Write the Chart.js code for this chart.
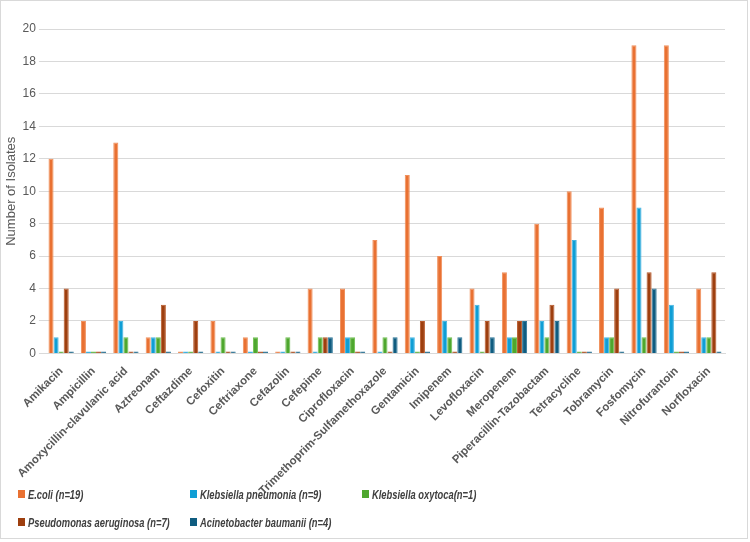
<!DOCTYPE html>
<html>
<head>
<meta charset="utf-8">
<script src="https://cdn.jsdelivr.net/npm/chart.js@4"></script>
<style>
  body { margin: 0; background: #fff; }
  #frame { position: relative; width: 748px; height: 539px; border: 1px solid #d9d9d9; box-sizing: border-box; background: #fff; }
  #plot { position: absolute; left: 0; top: 0; width: 746px; height: 500px; }
  #legend { position: absolute; left: 17px; top: 484px; width: 700px; display: grid; grid-template-columns: 172px 172px 200px; row-gap: 10px;
            font-family: "Liberation Sans", Arial, sans-serif; font-size: 13px; font-weight: bold; font-style: italic; color: #404040; }
  #legend div { display: flex; align-items: center; height: 18px; white-space: nowrap; }
  #legend span.box { display: inline-block; flex-shrink: 0; width: 7px; height: 8px; margin-right: 3px; }
  #legend span.txt { display: inline-block; transform: scaleX(0.72); transform-origin: left center; }
</style>
</head>
<body>
<div id="frame">
  <div id="plot"><canvas id="myChart"></canvas></div>
  <div id="legend"></div>
</div>
<script>
var drugs = ["Amikacin", "Ampicillin", "Amoxycillin-clavulanic acid", "Aztreonam", "Ceftazdime", "Cefoxitin", "Ceftriaxone",
    "Cefazolin", "Cefepime", "Ciprofloxacin", "Trimethoprim-Sulfamethoxazole", "Gentamicin", "Imipenem", "Levofloxacin",
    "Meropenem", "Piperacillin-Tazobactam", "Tetracycline", "Tobramycin", "Fosfomycin", "Nitrofurantoin", "Norfloxacin"];

var ecoli       = [12, 2, 13, 1, 0, 2, 1, 0, 4, 4, 7, 11, 6, 4, 5, 8, 10, 9, 19, 19, 4];
var kpneumonia  = [1, 0, 2, 1, 0, 0, 0, 0, 0, 1, 0, 1, 2, 3, 1, 2, 7, 1, 9, 3, 1];
var koxytoca    = [0, 0, 1, 1, 0, 1, 1, 1, 1, 1, 1, 0, 1, 0, 1, 1, 0, 1, 1, 0, 1];
var pseudomonas = [4, 0, 0, 3, 2, 0, 0, 0, 1, 0, 0, 2, 0, 2, 2, 3, 0, 4, 5, 0, 5];
var acineto     = [0, 0, 0, 0, 0, 0, 0, 0, 1, 0, 1, 0, 1, 1, 2, 2, 0, 0, 4, 0, 0];

var seriesNames = ["E.coli (n=19)", "Klebsiella pneumonia (n=9)", "Klebsiella oxytoca(n=1)",
    "Pseudomonas aeruginosa (n=7)", "Acinetobacter baumanii (n=4)"];
var yTicks = [0, 2, 4, 6, 8, 10, 12, 14, 16, 18, 20];

var colors = ["#E97132", "#0F9ED5", "#4EA72E", "#9E3F0F", "#0F5C80"];
var edges  = ["#F0905C", "#45B5E2", "#6FBF50", "#B8592A", "#2C7698"];

var seriesData = [ecoli, kpneumonia, koxytoca, pseudomonas, acineto];
var datasets = seriesData.map(function(d, i) {
    return {
        label: seriesNames[i],
        data: d,
        backgroundColor: colors[i],
        borderColor: edges[i],
        borderWidth: 1,
        borderSkipped: 'bottom',
        minBarLength: 2,
        barPercentage: 1.0,
        categoryPercentage: 0.78
    };
});

Chart.defaults.font.family = '"Liberation Sans", Arial, sans-serif';
Chart.defaults.color = '#595959';

var config = {
    type: 'bar',
    data: { labels: drugs, datasets: datasets },
    options: {
        responsive: true,
        maintainAspectRatio: false,
        animation: false,
        layout: { padding: { top: 28, right: 22, left: 3, bottom: 0 } },
        plugins: {
            legend: { display: false },
            tooltip: { enabled: false }
        },
        scales: {
            x: {
                grid: { display: false },
                border: { color: '#d9d9d9' },
                ticks: {
                    autoSkip: false,
                    maxRotation: 45,
                    minRotation: 45,
                    font: { size: 11.5, weight: 'bold' },
                    color: '#595959'
                }
            },
            y: {
                min: 0,
                max: 20,
                afterBuildTicks: function(axis) {
                    axis.ticks = yTicks.map(function(v) { return { value: v }; });
                },
                grid: { color: '#d9d9d9', tickLength: 6 },
                border: { display: false },
                ticks: { font: { size: 12 }, color: '#595959', padding: 3 },
                title: { display: true, text: 'Number of Isolates', font: { size: 13 }, color: '#595959', padding: 0 }
            }
        }
    }
};

var ctx = document.getElementById("myChart").getContext("2d");
window.myBar = new Chart(ctx, config);

// html legend laid out in fixed columns like the original
var legendEl = document.getElementById('legend');
datasets.forEach(function(ds) {
    var item = document.createElement('div');
    var box = document.createElement('span');
    box.className = 'box';
    box.style.background = ds.backgroundColor;
    var txt = document.createElement('span');
    txt.className = 'txt';
    txt.textContent = ds.label;
    item.appendChild(box);
    item.appendChild(txt);
    legendEl.appendChild(item);
});
</script>
</body>
</html>
